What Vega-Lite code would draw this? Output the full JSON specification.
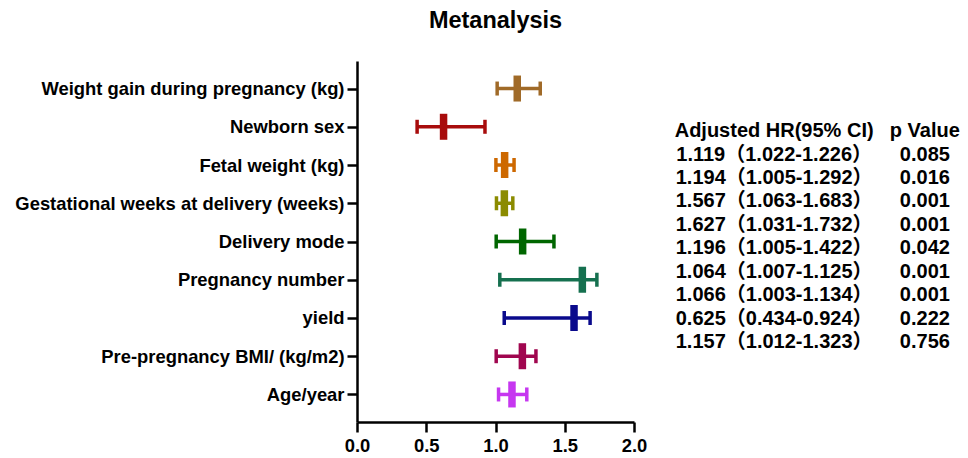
{
  "$schema": "https://vega.github.io/schema/vega-lite/v6.json",
  "padding": {"left": 14, "top": 8, "right": 0, "bottom": 5},
  "background": "white",
  "bounds": "flush",
  "spacing": 110,
  "config": {
    "font": "Liberation Sans, Noto Sans CJK SC",
    "view": {"stroke": null},
    "axis": {
      "grid": false,
      "domainColor": "black",
      "domainWidth": 2.5,
      "tickColor": "black",
      "tickWidth": 2.5,
      "tickSize": 10,
      "labelColor": "black",
      "labelFont": "Liberation Sans",
      "labelFontSize": 18.4,
      "labelFontWeight": "bold",
      "labelLimit": 0
    }
  },
  "datasets": {
    "forest": [
      {"factor": "Weight gain during pregnancy (kg)", "hr": 1.157, "lo": 1.012, "hi": 1.323},
      {"factor": "Newborn sex", "hr": 0.625, "lo": 0.434, "hi": 0.924},
      {"factor": "Fetal weight (kg)", "hr": 1.066, "lo": 1.003, "hi": 1.134},
      {"factor": "Gestational weeks at delivery (weeks)", "hr": 1.064, "lo": 1.007, "hi": 1.125},
      {"factor": "Delivery mode", "hr": 1.196, "lo": 1.005, "hi": 1.422},
      {"factor": "Pregnancy number", "hr": 1.627, "lo": 1.031, "hi": 1.732},
      {"factor": "yield", "hr": 1.567, "lo": 1.063, "hi": 1.683},
      {"factor": "Pre-pregnancy BMI/ (kg/m2)", "hr": 1.194, "lo": 1.005, "hi": 1.292},
      {"factor": "Age/year", "hr": 1.119, "lo": 1.022, "hi": 1.226}
    ],
    "table": [
      {"row": 0, "hrci": "Adjusted HR(95% CI)", "p": "p Value"},
      {"row": 1, "hrci": "1.119（1.022-1.226）", "p": "0.085"},
      {"row": 2, "hrci": "1.194（1.005-1.292）", "p": "0.016"},
      {"row": 3, "hrci": "1.567（1.063-1.683）", "p": "0.001"},
      {"row": 4, "hrci": "1.627（1.031-1.732）", "p": "0.001"},
      {"row": 5, "hrci": "1.196（1.005-1.422）", "p": "0.042"},
      {"row": 6, "hrci": "1.064（1.007-1.125）", "p": "0.001"},
      {"row": 7, "hrci": "1.066（1.003-1.134）", "p": "0.001"},
      {"row": 8, "hrci": "0.625（0.434-0.924）", "p": "0.222"},
      {"row": 9, "hrci": "1.157（1.012-1.323）", "p": "0.756"}
    ]
  },
  "hconcat": [
    {
      "title": {"text": "Metanalysis", "fontSize": 23.5, "fontWeight": "bold", "font": "Liberation Sans", "anchor": "middle", "offset": 29, "color": "black"},
      "width": 277,
      "height": 361,
      "data": {"name": "forest"},
      "encoding": {
        "y": {
          "field": "factor",
          "type": "nominal",
          "sort": null,
          "scale": {"type": "point", "padding": 0.72},
          "axis": {"title": null, "labelPadding": 3}
        },
        "color": {
          "field": "factor",
          "type": "nominal",
          "legend": null,
          "scale": {
            "domain": ["Weight gain during pregnancy (kg)", "Newborn sex", "Fetal weight (kg)", "Gestational weeks at delivery (weeks)", "Delivery mode", "Pregnancy number", "yield", "Pre-pregnancy BMI/ (kg/m2)", "Age/year"],
            "range": ["#A06A28", "#A80C0C", "#CD6800", "#8B8B00", "#006600", "#15704F", "#0A0A8C", "#A0064F", "#C637F0"]
          }
        }
      },
      "layer": [
        {
          "mark": {"type": "rule", "strokeWidth": 3.5, "opacity": 1},
          "encoding": {
            "x": {"field": "lo", "type": "quantitative", "scale": {"domain": [0, 2], "nice": false},
                  "axis": {"title": null, "values": [0, 0.5, 1, 1.5, 2], "format": ".1f", "labelPadding": 4, "labelFlush": false, "labelOverlap": false}},
            "x2": {"field": "hi"}
          }
        },
        {
          "mark": {"type": "tick", "thickness": 3.5, "size": 14, "opacity": 1},
          "encoding": {"x": {"field": "lo", "type": "quantitative"}}
        },
        {
          "mark": {"type": "tick", "thickness": 3.5, "size": 14, "opacity": 1},
          "encoding": {"x": {"field": "hi", "type": "quantitative"}}
        },
        {
          "mark": {"type": "tick", "thickness": 7.5, "size": 26, "opacity": 1},
          "encoding": {"x": {"field": "hr", "type": "quantitative"}}
        }
      ]
    },
    {
      "width": 211,
      "height": 361,
      "data": {"name": "table"},
      "transform": [{"fold": ["hrci", "p"], "as": ["col", "label"]}],
      "mark": {"type": "text", "fontSize": 20, "fontWeight": "bold", "baseline": "middle", "align": "center", "color": "black"},
      "encoding": {
        "x": {"field": "col", "type": "ordinal", "scale": {"type": "point", "padding": 0.2, "domain": ["hrci", "p"]}, "axis": null},
        "y": {"field": "row", "type": "quantitative", "scale": {"domain": [-2.99, 12.41], "reverse": true, "nice": false, "zero": false}, "axis": null},
        "text": {"field": "label", "type": "nominal"}
      }
    }
  ]
}
